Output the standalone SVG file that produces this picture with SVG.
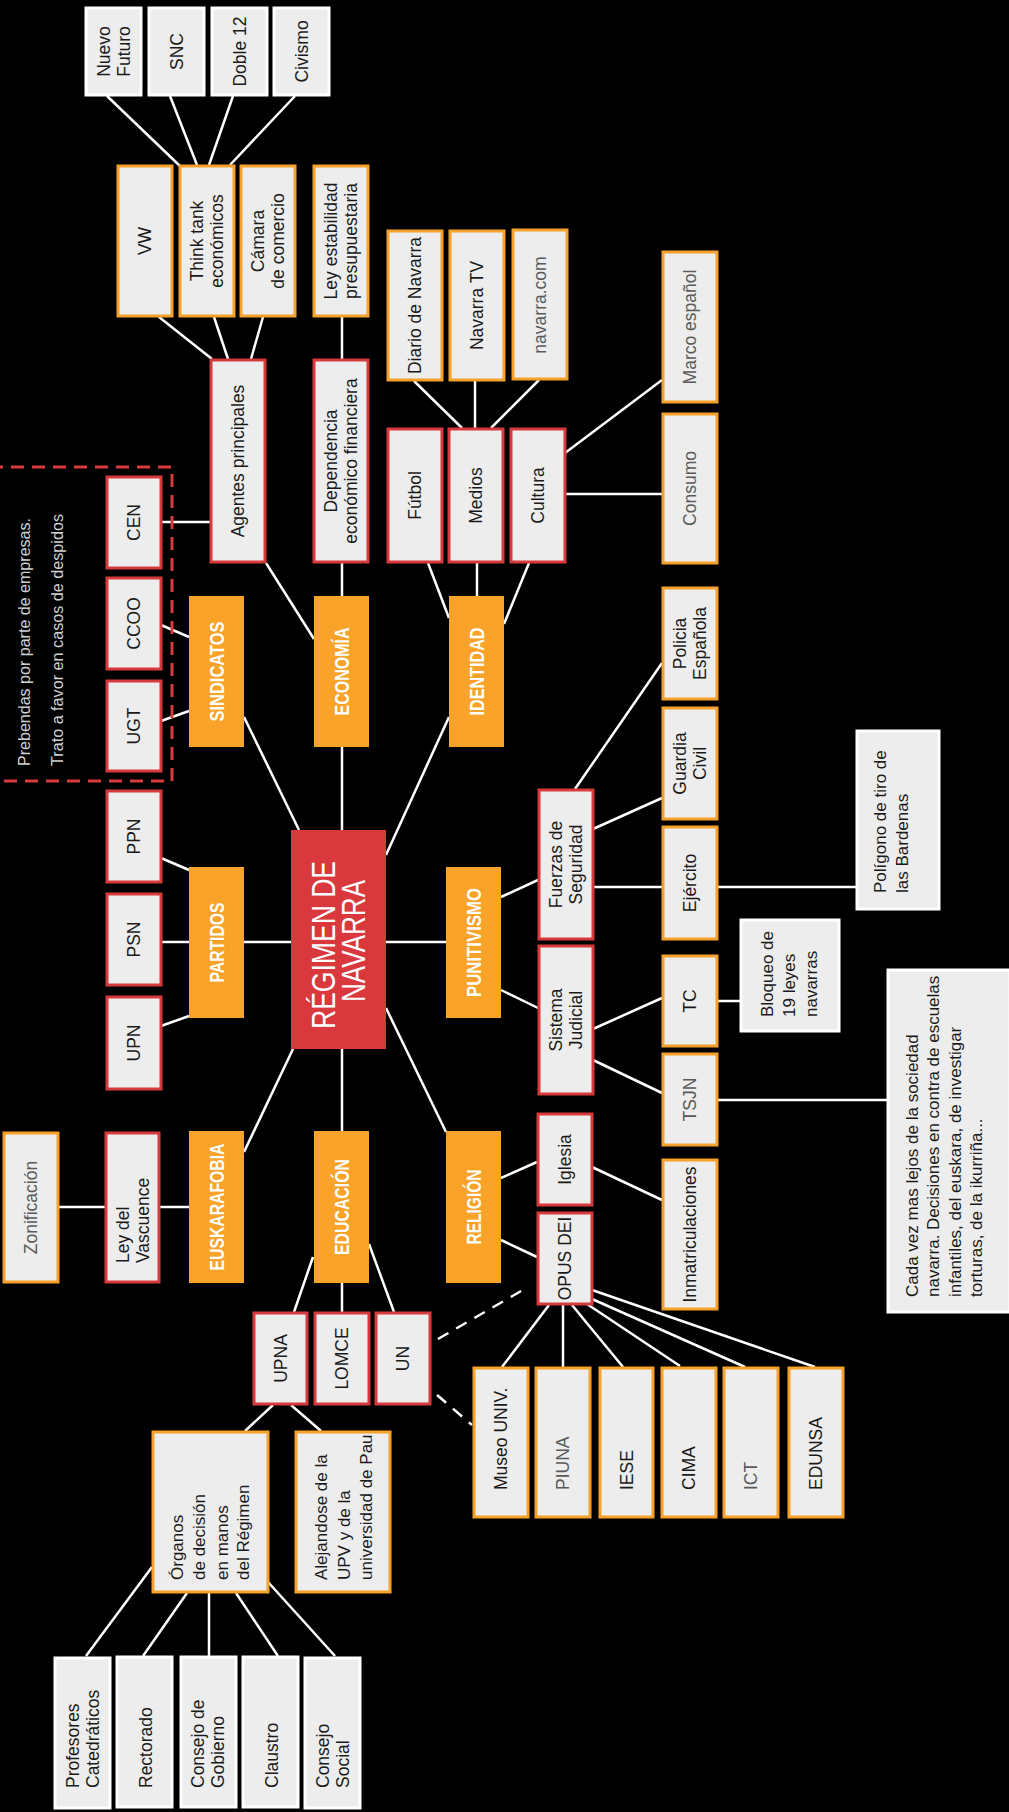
<svg xmlns="http://www.w3.org/2000/svg" width="1009" height="1812" viewBox="0 0 1009 1812">
<style>
.bo{fill:#ededed;stroke:#f6a12b;stroke-width:3}
.br{fill:#ededed;stroke:#d73a3d;stroke-width:3}
.bw{fill:#ededed;stroke:#ffffff;stroke-width:3}
.hd{fill:#f9a32a}
.t,.t tspan{font-family:"Liberation Sans",Arial,sans-serif;font-size:17.5px;fill:#1a1a1a;text-anchor:middle;dominant-baseline:central}
.s,.s tspan{font-family:"Liberation Sans",Arial,sans-serif;font-size:17px;fill:#1a1a1a;text-anchor:start;dominant-baseline:central}
.g,.g tspan{fill:#5a5a5a}
.h{font-family:"Liberation Sans",Arial,sans-serif;font-size:19.5px;font-weight:bold;fill:#ffffff;text-anchor:middle;dominant-baseline:central}
.rg{font-family:"Liberation Sans",Arial,sans-serif;font-size:33px;fill:#ffffff;text-anchor:middle;dominant-baseline:central}
.note{font-family:"Liberation Sans",Arial,sans-serif;font-size:16px;fill:#d0d0d0;text-anchor:start;dominant-baseline:central}
.c line{stroke:#ffffff;stroke-width:2.5}
.c .d{stroke-dasharray:12 9}
</style>
<rect x="0" y="0" width="1009" height="1812" fill="#000000"/>

<g id="connectors" class="c">
<line x1="107" y1="96" x2="180" y2="166"/>
<line x1="170" y1="96" x2="197" y2="165"/>
<line x1="233" y1="96" x2="209" y2="165"/>
<line x1="295" y1="96" x2="230" y2="165"/>
<line x1="159" y1="317" x2="212" y2="359"/>
<line x1="214" y1="317" x2="228" y2="359"/>
<line x1="263" y1="317" x2="251" y2="359"/>
<line x1="342" y1="317" x2="342" y2="359"/>
<line x1="161" y1="522" x2="210" y2="522"/>
<line x1="266" y1="563" x2="314" y2="639"/>
<line x1="342" y1="563" x2="342" y2="596"/>
<line x1="342" y1="747" x2="342" y2="830"/>
<line x1="414" y1="381" x2="462" y2="428"/>
<line x1="475" y1="381" x2="475" y2="428"/>
<line x1="539" y1="380" x2="491" y2="428"/>
<line x1="565" y1="453" x2="662" y2="380"/>
<line x1="565" y1="494" x2="662" y2="494"/>
<line x1="428" y1="563" x2="449" y2="618"/>
<line x1="477" y1="563" x2="477" y2="596"/>
<line x1="529" y1="563" x2="504" y2="624"/>
<line x1="449" y1="717" x2="386" y2="855"/>
<line x1="161" y1="625" x2="189" y2="637"/>
<line x1="161" y1="721" x2="189" y2="711"/>
<line x1="244" y1="717" x2="299" y2="830"/>
<line x1="161" y1="858" x2="189" y2="870"/>
<line x1="161" y1="942" x2="189" y2="942"/>
<line x1="161" y1="1026" x2="189" y2="1016"/>
<line x1="244" y1="942" x2="291" y2="942"/>
<line x1="386" y1="942" x2="446" y2="942"/>
<line x1="501" y1="897" x2="538" y2="880"/>
<line x1="501" y1="990" x2="538" y2="1008"/>
<line x1="575" y1="789" x2="662" y2="663"/>
<line x1="593" y1="829" x2="662" y2="798"/>
<line x1="593" y1="887" x2="662" y2="887"/>
<line x1="717" y1="887" x2="856" y2="887"/>
<line x1="593" y1="1029" x2="662" y2="998"/>
<line x1="593" y1="1060" x2="662" y2="1093"/>
<line x1="717" y1="1001" x2="740" y2="1001"/>
<line x1="717" y1="1100" x2="887" y2="1100"/>
<line x1="386" y1="1008" x2="446" y2="1132"/>
<line x1="501" y1="1178" x2="537" y2="1162"/>
<line x1="501" y1="1240" x2="537" y2="1257"/>
<line x1="592" y1="1167" x2="662" y2="1200"/>
<line x1="342" y1="1049" x2="342" y2="1131"/>
<line x1="293" y1="1049" x2="244" y2="1152"/>
<line x1="58" y1="1207" x2="105" y2="1207"/>
<line x1="159" y1="1207" x2="189" y2="1207"/>
<line x1="313" y1="1257" x2="294" y2="1312"/>
<line x1="342" y1="1283" x2="342" y2="1312"/>
<line x1="369" y1="1244" x2="394" y2="1312"/>
<line class="d" x1="438" y1="1339" x2="528" y2="1287"/>
<line class="d" x1="437" y1="1395" x2="472" y2="1425"/>
<line x1="273" y1="1405" x2="245" y2="1431"/>
<line x1="291" y1="1405" x2="321" y2="1431"/>
<line x1="152" y1="1567" x2="86" y2="1656"/>
<line x1="187" y1="1593" x2="143" y2="1656"/>
<line x1="209" y1="1593" x2="209" y2="1656"/>
<line x1="236" y1="1593" x2="278" y2="1656"/>
<line x1="268" y1="1582" x2="335" y2="1656"/>
<line x1="549" y1="1305" x2="502" y2="1367"/>
<line x1="563" y1="1305" x2="563" y2="1367"/>
<line x1="572" y1="1305" x2="623" y2="1367"/>
<line x1="587" y1="1304" x2="680" y2="1366"/>
<line x1="592" y1="1299" x2="745" y2="1367"/>
<line x1="592" y1="1290" x2="815" y2="1367"/>
</g>

<g id="dashed-group">
<rect x="-10" y="467" width="182" height="314" fill="none" stroke="#d73a3d" stroke-width="3" stroke-dasharray="13 8"/>
<text class="note" transform="translate(24,766) rotate(-90)" textLength="248" lengthAdjust="spacingAndGlyphs">Prebendas por parte de empresas.</text>
<text class="note" transform="translate(57,766) rotate(-90)" textLength="252" lengthAdjust="spacingAndGlyphs">Trato a favor en casos de despidos</text>
</g>

<g id="n-nuevo-futuro"><rect class="bw" x="86" y="8" width="55" height="87"/><text class="t" transform="translate(113.5,51.5) rotate(-90)"><tspan x="0" y="-10">Nuevo</tspan><tspan x="0" y="10">Futuro</tspan></text></g>
<g id="n-snc"><rect class="bw" x="149" y="8" width="55" height="87"/><text class="t" transform="translate(176.5,51.5) rotate(-90)">SNC</text></g>
<g id="n-doble12"><rect class="bw" x="212" y="8" width="55" height="87"/><text class="t" transform="translate(239.5,51.5) rotate(-90)">Doble 12</text></g>
<g id="n-civismo"><rect class="bw" x="274" y="8" width="55" height="87"/><text class="t" transform="translate(301.5,51.5) rotate(-90)">Civismo</text></g>

<g id="n-vw"><rect class="bo" x="118" y="166" width="54" height="150"/><text class="t" transform="translate(145,241) rotate(-90)">VW</text></g>
<g id="n-think-tank"><rect class="bo" x="180" y="166" width="54" height="150"/><text class="t" transform="translate(207,241) rotate(-90)"><tspan x="0" y="-10">Think tank</tspan><tspan x="0" y="10">económicos</tspan></text></g>
<g id="n-camara"><rect class="bo" x="241" y="166" width="54" height="150"/><text class="t" transform="translate(268,241) rotate(-90)"><tspan x="0" y="-10">Cámara</tspan><tspan x="0" y="10">de comercio</tspan></text></g>
<g id="n-ley-estabilidad"><rect class="bo" x="314" y="166" width="54" height="150"/><text class="t" transform="translate(341,241) rotate(-90)"><tspan x="0" y="-10">Ley estabilidad</tspan><tspan x="0" y="10">presupuestaria</tspan></text></g>

<g id="n-agentes"><rect class="br" x="211" y="360" width="54" height="202"/><text class="t" transform="translate(238,461) rotate(-90)">Agentes principales</text></g>
<g id="n-dependencia"><rect class="br" x="314" y="360" width="54" height="202"/><text class="t" transform="translate(341,461) rotate(-90)"><tspan x="0" y="-10">Dependencia</tspan><tspan x="0" y="10">económico financiera</tspan></text></g>

<g id="n-diario"><rect class="bo" x="388" y="231" width="54" height="149"/><text class="t" transform="translate(415,305.5) rotate(-90)">Diario de Navarra</text></g>
<g id="n-navarra-tv"><rect class="bo" x="450" y="231" width="54" height="149"/><text class="t" transform="translate(477,305.5) rotate(-90)">Navarra TV</text></g>
<g id="n-navarra-com"><rect class="bo" x="513" y="230" width="54" height="149"/><text class="t g" transform="translate(540,305) rotate(-90)">navarra.com</text></g>

<g id="n-futbol"><rect class="br" x="388" y="429" width="54" height="133"/><text class="t" transform="translate(415,495.5) rotate(-90)">Fútbol</text></g>
<g id="n-medios"><rect class="br" x="449" y="429" width="54" height="133"/><text class="t" transform="translate(476,495.5) rotate(-90)">Medios</text></g>
<g id="n-cultura"><rect class="br" x="511" y="429" width="54" height="133"/><text class="t" transform="translate(538,495.5) rotate(-90)">Cultura</text></g>

<g id="n-marco"><rect class="bo" x="663" y="252" width="54" height="150"/><text class="t g" transform="translate(690,327) rotate(-90)">Marco español</text></g>
<g id="n-consumo"><rect class="bo" x="663" y="414" width="54" height="149"/><text class="t g" transform="translate(690,488.5) rotate(-90)">Consumo</text></g>
<g id="n-policia"><rect class="bo" x="663" y="588" width="54" height="111"/><text class="t" transform="translate(690,643.5) rotate(-90)"><tspan x="0" y="-10">Policia</tspan><tspan x="0" y="10">Española</tspan></text></g>
<g id="n-guardia"><rect class="bo" x="663" y="708" width="54" height="111"/><text class="t" transform="translate(690,763.5) rotate(-90)"><tspan x="0" y="-10">Guardia</tspan><tspan x="0" y="10">Civil</tspan></text></g>
<g id="n-ejercito"><rect class="bo" x="663" y="827" width="54" height="112"/><text class="t" transform="translate(690,883) rotate(-90)">Ejército</text></g>
<g id="n-tc"><rect class="bo" x="663" y="956" width="54" height="90"/><text class="t" transform="translate(690,1001) rotate(-90)">TC</text></g>
<g id="n-tsjn"><rect class="bo" x="663" y="1054" width="54" height="91"/><text class="t g" transform="translate(690,1099.5) rotate(-90)">TSJN</text></g>
<g id="n-inmatriculaciones"><rect class="bo" x="663" y="1160" width="54" height="149"/><text class="t" transform="translate(690,1234.5) rotate(-90)">Inmatriculaciones</text></g>

<g id="n-fuerzas"><rect class="br" x="539" y="790" width="54" height="149"/><text class="t" transform="translate(566,864.5) rotate(-90)"><tspan x="0" y="-10">Fuerzas de</tspan><tspan x="0" y="10">Seguridad</tspan></text></g>
<g id="n-sistema"><rect class="br" x="539" y="946" width="54" height="148"/><text class="t" transform="translate(566,1020) rotate(-90)"><tspan x="0" y="-10">Sistema</tspan><tspan x="0" y="10">Judicial</tspan></text></g>
<g id="n-iglesia"><rect class="br" x="538" y="1114" width="54" height="91"/><text class="t" transform="translate(565,1159.5) rotate(-90)">Iglesia</text></g>
<g id="n-opus"><rect class="br" x="538" y="1213" width="54" height="91"/><text class="t" transform="translate(565,1258.5) rotate(-90)">OPUS DEI</text></g>

<g id="n-poligono"><rect class="bw" x="857" y="731" width="82" height="178"/><text class="s" transform="translate(880,893) rotate(-90)"><tspan x="0" y="0">Polígono de tiro de</tspan><tspan x="0" y="22">las Bardenas</tspan></text></g>
<g id="n-bloqueo"><rect class="bw" x="741" y="920" width="98" height="111"/><text class="s" transform="translate(767,1017) rotate(-90)"><tspan x="0" y="0">Bloqueo de</tspan><tspan x="0" y="22">19 leyes</tspan><tspan x="0" y="44">navarras</tspan></text></g>
<g id="n-cada-vez"><rect class="bw" x="888" y="970" width="122" height="342"/><text class="s" transform="translate(912,1297) rotate(-90)"><tspan x="0" y="0">Cada vez mas lejos de la sociedad</tspan><tspan x="0" y="21.3">navarra. Decisiones en contra de escuelas</tspan><tspan x="0" y="42.6">infantiles, del euskara, de investigar</tspan><tspan x="0" y="64">torturas, de la ikurriña...</tspan></text></g>

<g id="n-cen"><rect class="br" x="107" y="477" width="54" height="91"/><text class="t" transform="translate(134,522.5) rotate(-90)">CEN</text></g>
<g id="n-ccoo"><rect class="br" x="107" y="578" width="54" height="91"/><text class="t" transform="translate(134,623.5) rotate(-90)">CCOO</text></g>
<g id="n-ugt"><rect class="br" x="107" y="681" width="54" height="90"/><text class="t" transform="translate(134,726) rotate(-90)">UGT</text></g>
<g id="n-ppn"><rect class="br" x="107" y="791" width="54" height="91"/><text class="t" transform="translate(134,836.5) rotate(-90)">PPN</text></g>
<g id="n-psn"><rect class="br" x="107" y="894" width="54" height="91"/><text class="t" transform="translate(134,939.5) rotate(-90)">PSN</text></g>
<g id="n-upn"><rect class="br" x="107" y="997" width="54" height="92"/><text class="t" transform="translate(134,1043) rotate(-90)">UPN</text></g>

<g id="h-sindicatos"><rect class="hd" x="189" y="596" width="55" height="151"/><text class="h" transform="translate(216.5,671.5) rotate(-90)" textLength="100" lengthAdjust="spacingAndGlyphs">SINDICATOS</text></g>
<g id="h-economia"><rect class="hd" x="314" y="596" width="55" height="151"/><text class="h" transform="translate(341.5,671.5) rotate(-90)" textLength="88" lengthAdjust="spacingAndGlyphs">ECONOMÍA</text></g>
<g id="h-identidad"><rect class="hd" x="449" y="596" width="55" height="151"/><text class="h" transform="translate(476.5,671.5) rotate(-90)" textLength="88" lengthAdjust="spacingAndGlyphs">IDENTIDAD</text></g>
<g id="h-partidos"><rect class="hd" x="189" y="867" width="55" height="151"/><text class="h" transform="translate(216.5,942.5) rotate(-90)" textLength="80" lengthAdjust="spacingAndGlyphs">PARTIDOS</text></g>
<g id="h-punitivismo"><rect class="hd" x="446" y="867" width="55" height="151"/><text class="h" transform="translate(473.5,942.5) rotate(-90)" textLength="109" lengthAdjust="spacingAndGlyphs">PUNITIVISMO</text></g>
<g id="h-euskarafobia"><rect class="hd" x="189" y="1131" width="55" height="152"/><text class="h" transform="translate(216.5,1207) rotate(-90)" textLength="127" lengthAdjust="spacingAndGlyphs">EUSKARAFOBIA</text></g>
<g id="h-educacion"><rect class="hd" x="314" y="1131" width="55" height="152"/><text class="h" transform="translate(341.5,1207) rotate(-90)" textLength="96" lengthAdjust="spacingAndGlyphs">EDUCACIÓN</text></g>
<g id="h-religion"><rect class="hd" x="446" y="1131" width="55" height="152"/><text class="h" transform="translate(473.5,1207) rotate(-90)" textLength="75" lengthAdjust="spacingAndGlyphs">RELIGIÓN</text></g>

<g id="n-regimen"><rect x="291" y="830" width="95" height="219" fill="#d9393c"/>
<text class="rg" transform="translate(323,945) rotate(-90)" textLength="168" lengthAdjust="spacingAndGlyphs">RÉGIMEN DE</text>
<text class="rg" transform="translate(353.5,941) rotate(-90)" textLength="122" lengthAdjust="spacingAndGlyphs">NAVARRA</text></g>

<g id="n-zonificacion"><rect class="bo" x="4" y="1133" width="54" height="149"/><text class="t g" transform="translate(31,1207.5) rotate(-90)">Zonificación</text></g>
<g id="n-ley-vascuence"><rect class="br" x="106" y="1133" width="53" height="149"/><text class="s" transform="translate(123,1263) rotate(-90)"><tspan x="0" y="0" style="font-size:17.5px">Ley del</tspan><tspan x="0" y="20" style="font-size:17.5px">Vascuence</tspan></text></g>

<g id="n-upna"><rect class="br" x="254" y="1313" width="53" height="91"/><text class="t" transform="translate(280.5,1358.5) rotate(-90)">UPNA</text></g>
<g id="n-lomce"><rect class="br" x="315" y="1313" width="54" height="91"/><text class="t" transform="translate(342,1358.5) rotate(-90)">LOMCE</text></g>
<g id="n-un"><rect class="br" x="376" y="1313" width="54" height="91"/><text class="t" transform="translate(403,1358.5) rotate(-90)">UN</text></g>

<g id="n-organos"><rect class="bo" x="153" y="1432" width="115" height="160"/><text class="s" transform="translate(177,1580) rotate(-90)"><tspan x="0" y="0">Órganos</tspan><tspan x="0" y="22">de decisión</tspan><tspan x="0" y="44.5">en manos</tspan><tspan x="0" y="66">del Régimen</tspan></text></g>
<g id="n-alejandose"><rect class="bo" x="296" y="1432" width="94" height="160"/><text class="s" transform="translate(321,1580) rotate(-90)"><tspan x="0" y="0">Alejandose de la</tspan><tspan x="0" y="22.5">UPV y de la</tspan><tspan x="0" y="45">universidad de Pau</tspan></text></g>

<g id="n-profesores"><rect class="bw" x="55" y="1658" width="55" height="150"/><text class="s" transform="translate(73,1788) rotate(-90)"><tspan x="0" y="0" style="font-size:17.5px">Profesores</tspan><tspan x="0" y="20" style="font-size:17.5px">Catedráticos</tspan></text></g>
<g id="n-rectorado"><rect class="bw" x="117" y="1657" width="55" height="150"/><text class="s" transform="translate(146,1788) rotate(-90)" style="font-size:17.5px">Rectorado</text></g>
<g id="n-consejo-gobierno"><rect class="bw" x="181" y="1657" width="55" height="150"/><text class="s" transform="translate(198,1788) rotate(-90)"><tspan x="0" y="0" style="font-size:17.5px">Consejo de</tspan><tspan x="0" y="20" style="font-size:17.5px">Gobierno</tspan></text></g>
<g id="n-claustro"><rect class="bw" x="243" y="1657" width="55" height="150"/><text class="s" transform="translate(272,1788) rotate(-90)" style="font-size:17.5px">Claustro</text></g>
<g id="n-consejo-social"><rect class="bw" x="305" y="1658" width="55" height="150"/><text class="s" transform="translate(323,1788) rotate(-90)"><tspan x="0" y="0" style="font-size:17.5px">Consejo</tspan><tspan x="0" y="20" style="font-size:17.5px">Social</tspan></text></g>

<g id="n-museo"><rect class="bo" x="474" y="1368" width="54" height="149"/><text class="s" transform="translate(501,1490) rotate(-90)" style="font-size:17.5px">Museo UNIV.</text></g>
<g id="n-piuna"><rect class="bo" x="536" y="1368" width="54" height="149"/><text class="s g" transform="translate(563,1490) rotate(-90)" style="font-size:17.5px">PIUNA</text></g>
<g id="n-iese"><rect class="bo" x="600" y="1368" width="53" height="149"/><text class="s" transform="translate(626.5,1490) rotate(-90)" style="font-size:17.5px">IESE</text></g>
<g id="n-cima"><rect class="bo" x="662" y="1368" width="54" height="149"/><text class="s" transform="translate(689,1490) rotate(-90)" style="font-size:17.5px">CIMA</text></g>
<g id="n-ict"><rect class="bo" x="724" y="1368" width="54" height="149"/><text class="s g" transform="translate(751,1490) rotate(-90)" style="font-size:17.5px">ICT</text></g>
<g id="n-edunsa"><rect class="bo" x="789" y="1368" width="54" height="149"/><text class="s" transform="translate(816,1490) rotate(-90)" style="font-size:17.5px">EDUNSA</text></g>
</svg>
